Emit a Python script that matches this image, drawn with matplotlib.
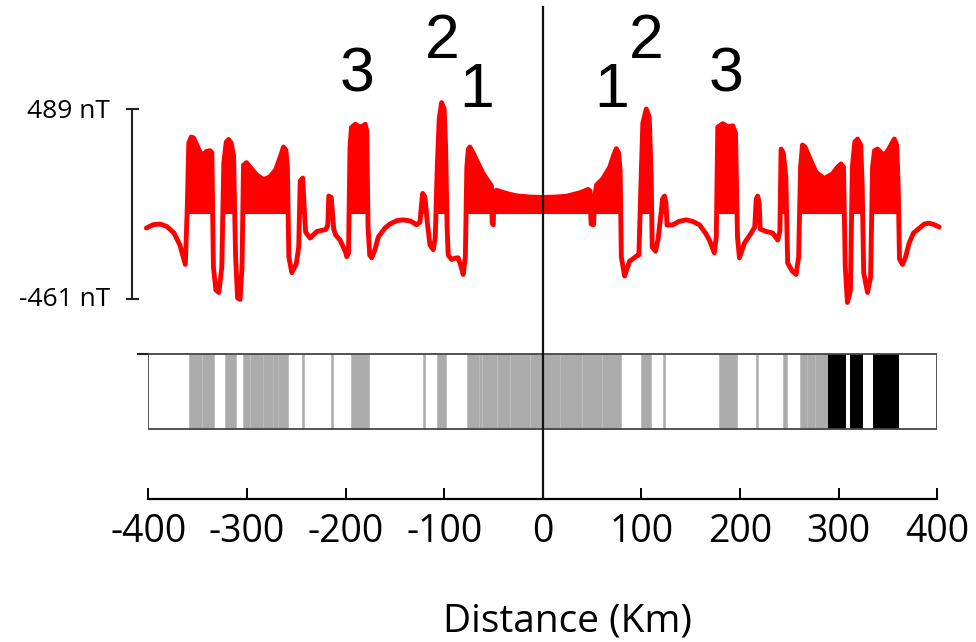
"""
Magnetic anomaly profile across a spreading ridge, with the
normal / reversed stripe pattern underneath.
"""

import matplotlib
matplotlib.use("Agg")
import matplotlib.pyplot as plt
from matplotlib.patches import Rectangle

# --- anomaly profile (distance in km, anomaly in nT) ---
distance_km = [
    -402, -395, -388, -381, -374, -368, -362.5, -360.5, -359, -356.5,
    -354, -349, -345.6, -341, -337.5, -335.6, -334, -331.5, -328.5, -325.5,
    -323.5, -321, -318.7, -316, -313.6, -311.5, -309.5, -307, -305, -303.5,
    -300.5, -296, -290, -283, -277, -271, -265.5, -263, -260.5, -259,
    -257.5, -254.5, -250, -247.5, -246, -243.5, -242, -240.5, -236, -229,
    -220, -218, -217, -214.5, -212, -210, -205.6, -200, -198.8, -197,
    -195.5, -194, -190, -186, -182, -180, -178.5, -177.2, -175.5, -173.5,
    -170, -166.8, -160, -155, -148, -141.5, -134, -128, -124.5, -123,
    -121.8, -119.5, -117, -114.4, -111, -109, -107, -105, -102.6, -100,
    -98.5, -97, -95.9, -92.5, -88.5, -85.8, -83, -80.7, -78.5, -77,
    -75.5, -73.9, -70, -67, -60.5, -53.7, -52, -51.3, -50.2, -49.5,
    -47, -42, -36.8, -26.6, -13, 0,
    13, 24, 37.5, 42, 46, 48, 49, 51.5, 53, 54.5,
    61, 68, 72, 74.6, 77, 78.5, 79.7, 83, 86, 88,
    95, 97.5, 99.5, 101.5, 105, 108, 110, 111, 114.4, 117,
    120, 121.5, 123.5, 125, 126, 132, 138, 145.5, 152, 159,
    165, 169, 174, 176, 177.5, 182.6, 187.7, 192.7, 195.5, 197.5,
    199.5, 204.6, 211.4, 215, 216.5, 218, 219.5, 220.5, 226.5, 233.2,
    238.3, 240.5, 241.7, 244, 246.5, 248.4, 253, 256.9, 259.5, 261.5,
    263.4, 266, 270.4, 277, 285.6, 294, 299, 302.5, 305, 306.8,
    309, 312, 314, 316.5, 319.3, 322.5, 324, 325.5, 329.4, 332.5,
    334.5, 336.5, 339.5, 346.3, 351, 356.5, 359, 360.5, 361.8, 364.9,
    368, 371.6, 376, 381.8, 387, 392, 397, 402,
]
anomaly_nt = [
    -105, -88, -85, -98, -130, -190, -287, 0, 320, 350,
    345, 290, 257, 278, 282, 272, -300, -415, -427, -300,
    220, 325, 338, 320, 260, -250, -455, -462, -300, 210,
    222, 195, 160, 137, 150, 185, 260, 300, 285, 200,
    -250, -328, -285, -200, 130, 145, 0, -125, -155, -122,
    -112, -90, 55, 48, -110, -140, -165, -225, -248, -230,
    300, 398, 414, 400, 406, 414, 380, -100, -240, -254,
    -210, -150, -105, -85, -68, -64, -70, -89, -75, 10,
    68, 50, -80, -190, -213, -150, 200, 440, 522, 490,
    300, -100, -240, -262, -255, -254, -295, -337, -250, 200,
    290, 300, 265, 233, 167, 117, 105, -80, -89, 60,
    84, 76, 68, 56, 50, 48,
    50, 54, 71, 80, 88, 80, -85, -89, 60, 110,
    142, 200, 260, 292, 270, 180, -250, -345, -300, -271,
    -246, -240, 100, 420, 490, 450, 150, -200, -221, -160,
    -30, 40, 55, 20, -90, -89, -72, -64, -72, -89,
    -130, -165, -229, -150, 400, 417, 401, 406, 370, -150,
    -254, -180, -130, -100, 40, 55, 20, -110, -122, -130,
    -165, -120, 290, 270, 150, -280, -320, -337, -250, 200,
    310, 300, 249, 175, 142, 167, 200, 216, 200, -300,
    -477, -420, 200, 325, 340, 310, 100, -330, -427, -350,
    200, 282, 290, 257, 290, 340, 310, 100, -260, -287,
    -250, -180, -130, -106, -85, -81, -88, -100,
]
FILL_BASE = -35  # level the positive lobes are filled down to

# --- magnetic stripes (start km, end km) ---
gray_stripes = [
    (-359, -346), (-346, -333), (-322.7, -311),
    (-304, -297), (-297, -283.6), (-283.6, -273.5), (-273.5, -268.4), (-268.4, -258),
    (-244.4, -242), (-215, -213), (-194.7, -176), (-121, -119), (-107, -98),
    (-77, -65), (-65, -62), (-62, -46.6), (-46.6, -33), (-33, -13), (-13, 0),
    (0, 17.5), (17.5, 39.5), (39.5, 60), (60, 79.7),
    (100, 110), (122, 124), (178.5, 196.8), (216.4, 218.4), (244, 247.4),
    (261, 267.7), (267.7, 276), (276, 289.3),
]
black_stripes = [(289.3, 307.5), (311.6, 325), (334.5, 361.5)]
BAND_TOP, BAND_BOTTOM = -736, -1111

# --- chron numbers above the peaks ---
chron_labels = ["3", "2", "1", "1", "2", "3"]
chron_x = [-188, -101.6, -67, 70, 104.5, 185.6]
chron_y = [577, 744, 502, 502, 744, 577]

xticks = [-400, -300, -200, -100, 0, 100, 200, 300, 400]
scale_top, scale_bottom = 489, -461

RED = "#ff0000"

fig = plt.figure(figsize=(9.76, 6.42), dpi=100)
ax = fig.add_axes([0.152, 0.2223, 0.8082, 0.7777])
ax.set_xlim(-400, 400)
ax.set_ylim(-1461, 1035)

# anomaly curve + filled positive lobes
ax.fill_between(distance_km, anomaly_nt, FILL_BASE,
                where=[v > FILL_BASE for v in anomaly_nt],
                interpolate=True, color=RED, lw=0, zorder=2)
ax.plot(distance_km, anomaly_nt, color=RED, lw=3.5,
        solid_joinstyle="round", solid_capstyle="round", zorder=3, clip_on=False)

# stripe band
band_h = BAND_BOTTOM - BAND_TOP
for a, b in gray_stripes:
    ax.bar(a, band_h, width=b - a, bottom=BAND_TOP, align="edge",
           color="#ababab", edgecolor="#bdbdbd", lw=0.6, zorder=2)
for a, b in black_stripes:
    ax.bar(a, band_h, width=b - a, bottom=BAND_TOP, align="edge",
           color="black", lw=0, zorder=2)
ax.add_patch(Rectangle((-400, BAND_BOTTOM), 800, -band_h, fill=False,
                       edgecolor="#444444", lw=1.3, zorder=4))
ax.plot([-411, -400], [BAND_TOP, BAND_TOP], color="#222222", lw=1.5, clip_on=False)

# ridge axis
ax.axvline(0, ymin=0, ymax=0.9866, color="#111111", lw=1.6, zorder=5)

# amplitude scale bar
ax.plot([-417, -417], [scale_bottom, scale_top], color="#222222", lw=1.5, clip_on=False)
for v in (scale_top, scale_bottom):
    ax.plot([-422, -411], [v, v], color="#222222", lw=1.5, clip_on=False)
ax.text(-439, 444, f"{scale_top} nT", ha="right", va="baseline",
        fontsize=19, family="Open Sans")
ax.text(-439, -494, f"{scale_bottom} nT", ha="right", va="baseline",
        fontsize=19, family="Open Sans")

for lab, x, y in zip(chron_labels, chron_x, chron_y):
    ax.text(x, y, lab, ha="center", va="baseline", fontsize=45,
            family="Liberation Sans")

# bottom distance axis only
for side in ("top", "left", "right"):
    ax.spines[side].set_visible(False)
ax.spines["bottom"].set_linewidth(1.6)
ax.set_yticks([])
ax.set_xticks(xticks)
ax.set_xticklabels([str(t) for t in xticks], family="Open Sans", fontsize=27)
ax.tick_params(axis="x", direction="in", length=8, width=1.4, pad=10)
ax.set_xlabel("Distance (Km)", family="Open Sans", fontsize=28)
ax.xaxis.set_label_coords(0.531, -0.2077)
ax.patch.set_visible(False)

plt.savefig("out.png", dpi=100)
